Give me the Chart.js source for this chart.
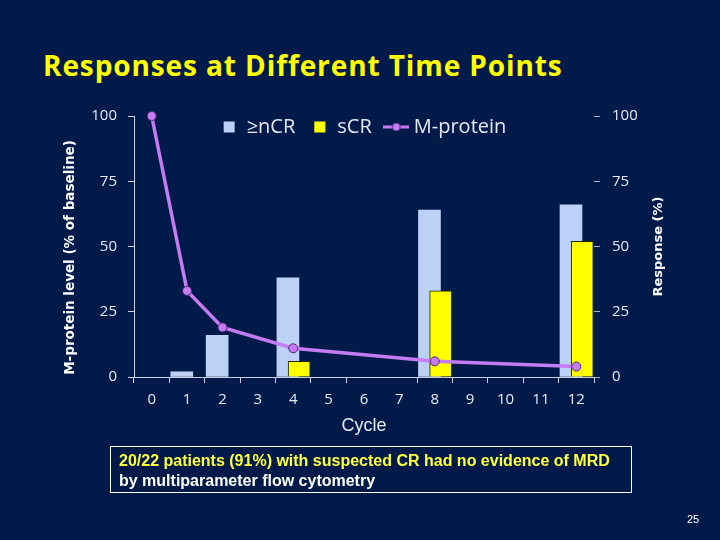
<!DOCTYPE html>
<html>
<head>
<meta charset="utf-8">
<script src="https://cdn.jsdelivr.net/npm/chart.js@4.4.1/dist/chart.umd.min.js"></script>
<style>
  html, body { margin: 0; padding: 0; }
  body { width: 720px; height: 540px; background: #021a4a; position: relative; overflow: hidden; }
  #chart { position: absolute; left: 0; top: 0; }
  .slide-title { position: absolute; left: 43px; top: 51px; font: bold 28px "Open Sans"; letter-spacing: 0.9px; line-height: 1; color: #ffff00; white-space: nowrap; }
  .note { position: absolute; left: 110px; top: 446px; width: 522px; height: 47px; box-sizing: border-box; border: 1px solid #ffffff; padding: 4px 0 0 8px; font: bold 16px "Liberation Sans"; line-height: 20px; white-space: nowrap; }
  .note .hl { color: #ffff3c; }
  .note .plain { color: #ffffff; }
  .page-no { position: absolute; left: 687px; top: 513px; font: 11px "Liberation Sans"; color: #ffffff; }
</style>
</head>
<body>
<div class="slide-title">Responses at Different Time Points</div>
<canvas id="chart" width="720" height="540"></canvas>
<div class="note"><div class="hl">20/22 patients (91%) with suspected CR had no evidence of MRD</div><div class="plain">by multiparameter flow cytometry</div></div>
<div class="page-no">25</div>
<script>
// values
const cycles = ["0", "1", "2", "3", "4", "5", "6", "7", "8", "9", "10", "11", "12"];
const nCR = [null, 2, 16, null, 38, null, null, null, 64, null, null, null, 66];
const sCR = [null, null, null, null, 6, null, null, null, 33, null, null, null, 52];
const mProtein = [100, 33, 19, null, 11, null, null, null, 6, null, null, null, 4];
const yTicks = [0, 25, 50, 75, 100];

const leftTitle = "M-protein level (% of baseline)";
const rightTitle = "Response (%)";

const TEXT = "#e6e9f0";
const AXIS = "#c9d0de";
const BLUE = "#bdd1f6";
const YELLOW = "#ffff00";
const PURPLE = "#c57bf2";
const PURPLE_EDGE = "#4e2a72";

// bars sit on their own hidden linear axes so the two series overlap like the original
const toPoints = (arr) => arr.map((v, i) => ({ x: i, y: v })).filter((p) => p.y !== null);

function lineMarkerSymbol() {
  const c = document.createElement("canvas");
  c.width = 26;
  c.height = 12;
  const g = c.getContext("2d");
  g.strokeStyle = PURPLE;
  g.lineWidth = 3;
  g.beginPath();
  g.moveTo(0, 6);
  g.lineTo(26, 6);
  g.stroke();
  g.beginPath();
  g.arc(13, 6, 4, 0, Math.PI * 2);
  g.fillStyle = PURPLE;
  g.fill();
  g.lineWidth = 1;
  g.strokeStyle = PURPLE_EDGE;
  g.stroke();
  return c;
}
const legendSymbol = lineMarkerSymbol();

const fixedTicks = (scale) => {
  scale.ticks = yTicks.map((v) => ({ value: v }));
};

// legend is laid over the top of the plot area
const legendOverlap = {
  id: "legendOverlap",
  beforeLayout(chart) {
    const legend = chart.legend;
    if (!legend || legend._patched) return;
    const fit = legend.fit;
    legend.fit = function () {
      fit.call(this);
      this.height = 16;
    };
    legend._patched = true;
  },
  afterLayout(chart) {
    // widen the clip box again so the items are not cut off
    const legend = chart.legend;
    legend.bottom = legend.top + 50;
    legend.height = 50;
  },
};

// vertical axis titles, both reading bottom to top
const axisTitles = {
  id: "axisTitles",
  afterDraw(chart) {
    const { ctx, chartArea } = chart;
    const mid = (chartArea.top + chartArea.bottom) / 2;
    const draw = (text, x, y, size) => {
      ctx.save();
      ctx.translate(x, y);
      ctx.rotate(-Math.PI / 2);
      ctx.font = 'bold ' + size + 'px "DejaVu Sans"';
      ctx.fillStyle = "#ffffff";
      ctx.textAlign = "center";
      ctx.textBaseline = "middle";
      ctx.fillText(text, 0, 0);
      ctx.restore();
    };
    draw(leftTitle, 70, mid + 11, 13.5);
    draw(rightTitle, 659, mid, 13);
  },
};

const tickFont = { family: "Open Sans", size: 15 };

new Chart(document.getElementById("chart"), {
  type: "bar",
  data: {
    labels: cycles,
    datasets: [
      {
        label: "≥nCR",
        data: toPoints(nCR),
        xAxisID: "xNCR",
        yAxisID: "y1",
        backgroundColor: BLUE,
        borderColor: BLUE,
        borderWidth: 0,
        barThickness: 22,
        grouped: false,
        order: 2,
      },
      {
        label: "sCR",
        data: toPoints(sCR),
        xAxisID: "xSCR",
        yAxisID: "y1",
        backgroundColor: YELLOW,
        borderColor: "#222210",
        borderWidth: 1,
        barThickness: 22,
        grouped: false,
        order: 1,
      },
      {
        type: "line",
        label: "M-protein",
        data: mProtein,
        xAxisID: "x",
        yAxisID: "y",
        borderColor: PURPLE,
        borderWidth: 3.5,
        pointRadius: 4.5,
        pointBackgroundColor: PURPLE,
        pointBorderColor: PURPLE_EDGE,
        pointBorderWidth: 1,
        spanGaps: true,
        tension: 0,
        clip: false,
        order: 0,
      },
    ],
  },
  options: {
    responsive: false,
    animation: false,
    layout: { padding: { left: 50, right: 40, top: 100, bottom: 99 } },
    plugins: {
      tooltip: { enabled: false },
      legend: {
        position: "top",
        fullSize: false,
        labels: {
          color: TEXT,
          font: { family: "Open Sans", size: 20 },
          usePointStyle: true,
          boxWidth: 15,
          boxHeight: 11,
          padding: 17,
          sort: (a, b) => a.datasetIndex - b.datasetIndex,
          generateLabels(chart) {
            const items = Chart.defaults.plugins.legend.labels.generateLabels(chart);
            items.forEach((item) => {
              if (item.datasetIndex === 2) {
                item.pointStyle = legendSymbol;
              } else {
                item.pointStyle = "rect";
                item.lineWidth = 0;
              }
            });
            return items;
          },
        },
      },
    },
    scales: {
      x: {
        type: "category",
        offset: true,
        grid: {
          offset: true,
          drawOnChartArea: false,
          tickLength: 6,
          color: (ctx) => (ctx.index === 7 ? "rgba(0,0,0,0)" : AXIS),
        },
        border: { color: AXIS, width: 1 },
        ticks: { color: TEXT, font: tickFont, padding: 8, maxRotation: 0, autoSkip: false },
        title: {
          display: true,
          text: "Cycle",
          color: TEXT,
          font: { family: "Liberation Sans", size: 18 },
          padding: { top: 4, bottom: 4 },
        },
        afterFit: (s) => { s.height = 64; },
      },
      xNCR: { type: "linear", display: false, offset: false, min: -0.35, max: 12.65 },
      xSCR: { type: "linear", display: false, offset: false, min: -0.667, max: 12.333 },
      y: {
        position: "left",
        min: 0,
        max: 100,
        afterBuildTicks: fixedTicks,
        grid: { drawOnChartArea: false, tickLength: 6, color: AXIS },
        border: { display: true, color: AXIS },
        ticks: { color: TEXT, font: tickFont, padding: 11 },
        afterFit: (s) => { s.width = 84; },
      },
      y1: {
        position: "right",
        min: 0,
        max: 100,
        afterBuildTicks: fixedTicks,
        grid: { drawOnChartArea: false, tickLength: 6, color: "#a9b3c8" },
        border: { display: false },
        ticks: { color: TEXT, font: tickFont, padding: 12 },
        afterFit: (s) => { s.width = 86; },
      },
    },
  },
  plugins: [legendOverlap, axisTitles],
});
</script>
</body>
</html>
